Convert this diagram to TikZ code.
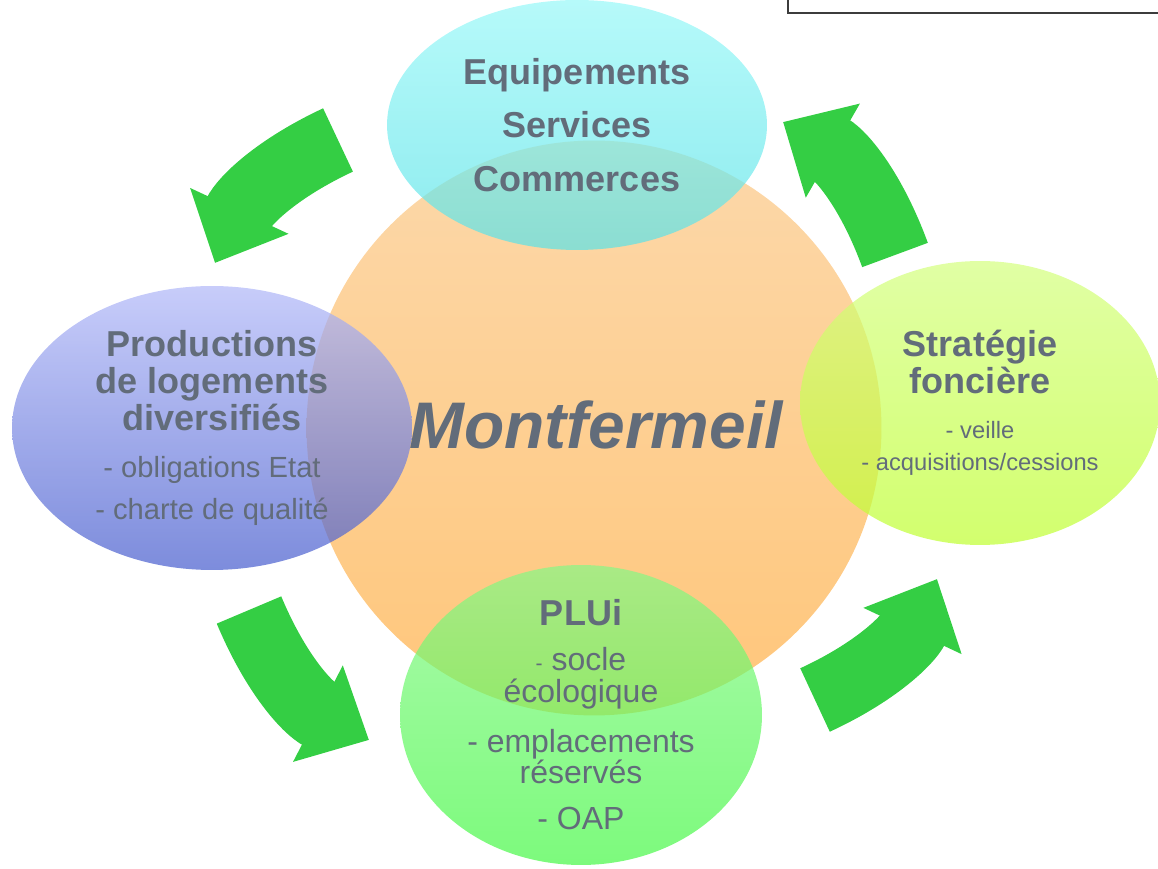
\documentclass[tikz,border=0pt]{standalone}
\usepackage{fontspec}
\setmainfont{Liberation Sans}
\usetikzlibrary{shapes.geometric}
\usetikzlibrary{arrows.meta}
\definecolor{textgray}{RGB}{98,108,122}
\definecolor{equiptop}{RGB}{151,248,248}
\definecolor{equipbot}{RGB}{91,226,231}
\definecolor{logttop}{RGB}{176,183,248}
\definecolor{logtbot}{RGB}{69,91,205}
\definecolor{foncitop}{RGB}{212,255,126}
\definecolor{foncibot}{RGB}{191,255,48}
\definecolor{plutop}{RGB}{134,248,134}
\definecolor{plubot}{RGB}{69,248,69}
\definecolor{orangetop}{RGB}{252,216,170}
\definecolor{orangebot}{RGB}{255,198,122}
\definecolor{arrowgreen}{RGB}{52,206,68}
\definecolor{boxgray}{RGB}{60,60,60}
\tikzset{
  commune/.style={circle,draw=none,minimum size=11.5cm,inner sep=0pt,
                  top color=orangetop,bottom color=orangebot},
  theme/.style={ellipse,draw=none,inner sep=0pt,fill opacity=0.7},
  heading/.style={align=center,text=textgray,
                  font=\fontsize{20.5}{21}\selectfont\bfseries},
  townname/.style={text=textgray,
                   font=\fontsize{37.5}{40}\selectfont\bfseries\itshape},
  cycle/.style={draw=arrowgreen,line width=1.4cm,
                -{Triangle[length=1.15cm,width=2.1cm]}},
  corner/.style={draw=boxgray,line width=1.2pt},
}
\newcommand{\detail}[1]{{\mdseries\fontsize{16.6}{21}\selectfont #1}}
\newcommand{\smalldetail}[1]{{\mdseries\fontsize{13.5}{18}\selectfont #1}}
\newcommand{\pludetail}[1]{{\mdseries\fontsize{18.2}{21}\selectfont #1}}

\begin{document}
\begin{tikzpicture}[x=0.02cm,y=0.02cm]
    \useasboundingbox (0,0) rectangle (1158,868);

    % Box at the top right
    \draw[corner] (788,880) -- (788,855) -- (1170,855);

    % Town and themes
    \node[commune] (town) at (594,440) {};
    \node[theme,minimum width=7.6cm,minimum height=5cm,
          top color=equiptop,bottom color=equipbot] (equip) at (577,743) {};
    \node[theme,minimum width=8cm,minimum height=5.68cm,
          top color=logttop,bottom color=logtbot] (logt) at (212,440) {};
    \node[theme,minimum width=7.2cm,minimum height=5.68cm,
          top color=foncitop,bottom color=foncibot] (fonc) at (980,465) {};
    \node[theme,minimum width=7.24cm,minimum height=6cm,
          top color=plutop,bottom color=plubot] (plui) at (581,153) {};

    % Texts
    \node[heading,font=\fontsize{20.5}{30.6}\selectfont\bfseries]
        (equip-txt) at (equip) {Equipements\\Services\\Commerces};
    \node[heading] (logt-txt) at (logt)
        {Productions\\de logements\\diversifiés\\[5.6pt]
         \detail{- obligations Etat}\\[2.8pt]
         \detail{- charte de qualité}};
    \node[heading] (fonc-txt) at (fonc)
        {Stratégie\\foncière\\[4.5pt]
         \smalldetail{- veille}\\[-2.9pt]
         \smalldetail{- acquisitions/cessions}};
    \node[heading] (plui-txt) at (plui)
        {PLUi\\[4.5pt]
         \pludetail{{\fontsize{12}{14}\selectfont -} socle}\\[-2.9pt]
         \pludetail{écologique}\\[7.3pt]
         \pludetail{- emplacements}\\[-3.4pt]
         \pludetail{réservés}\\[5.6pt]
         \pludetail{- OAP}};
    \node[townname] (town-txt) at (596,443) {Montfermeil};

    % Cycle arrows
    \coordinate (tl-tail) at (338,728);
    \coordinate (tl-tip)  at (215,605);
    \coordinate (bl-tail) at (249,258);
    \coordinate (bl-tip)  at (369,128);
    \coordinate (br-tail) at (815,168);
    \coordinate (br-tip)  at (937,289);
    \coordinate (tr-tail) at (895,613);
    \coordinate (tr-tip)  at (783,746);
    \draw[cycle] (tl-tail) to[bend right=20] (tl-tip);
    \draw[cycle] (bl-tail) to[bend right=20] (bl-tip);
    \draw[cycle] (br-tail) to[bend right=20] (br-tip);
    \draw[cycle] (tr-tail) to[bend right=20] (tr-tip);
\end{tikzpicture}
\end{document}
